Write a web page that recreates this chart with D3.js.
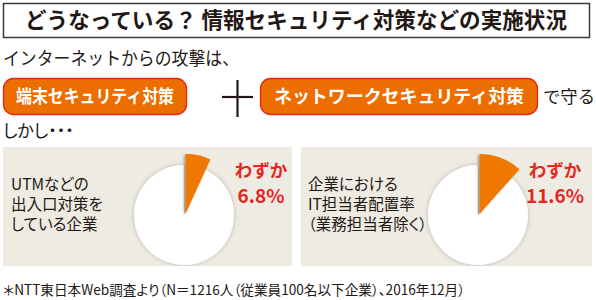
<!DOCTYPE html>
<html><head><meta charset="utf-8">
<script src="https://cdn.jsdelivr.net/npm/d3@7"></script>
<style>
html,body{margin:0;padding:0;background:#fff;}
svg{display:block;font-family:"Noto Sans CJK JP","Noto Sans",sans-serif;}
.palt{font-feature-settings:"palt";}
</style></head>
<body>
<script>
const title = "どうなっている？ 情報セキュリティ対策などの実施状況";
const intro = "インターネットからの攻撃は、";
const pills = ["端末セキュリティ対策", "ネットワークセキュリティ対策"];
const suffix = "で守る";
const but = "しかし・・・";
const panelLabels = [["UTMなどの","出入口対策を","している企業"],["企業における","IT担当者配置率","（業務担当者除く）"]];
const values = [6.8, 11.6];
const prefixLabel = "わずか";
const footnote = "＊NTT東日本Web調査より（N＝1216人（従業員100名以下企業）、2016年12月）";

const W = 596, H = 300;
const svg = d3.select("body").append("svg").attr("width", W).attr("height", H);
const defs = svg.append("defs");
const f = defs.append("filter").attr("id","sh").attr("x","-30%").attr("y","-30%").attr("width","160%").attr("height","160%");
f.append("feDropShadow").attr("dx",0).attr("dy",0).attr("stdDeviation",2).attr("flood-color","#000").attr("flood-opacity",0.25);
const f2 = defs.append("filter").attr("id","sh2").attr("x","-30%").attr("y","-30%").attr("width","160%").attr("height","160%");
f2.append("feDropShadow").attr("dx",-1.5).attr("dy",1).attr("stdDeviation",1).attr("flood-color","#000").attr("flood-opacity",0.35);

// Title box
svg.append("rect").attr("x",3.5).attr("y",3.5).attr("width",586).attr("height",34)
  .attr("fill","#fff").attr("stroke","#3e3a39").attr("stroke-width",1.5);
svg.append("text").attr("x",296).attr("y",28).attr("text-anchor","middle")
  .attr("font-size",22).attr("font-weight","bold").attr("fill","#231815")
  .attr("textLength",542).attr("lengthAdjust","spacingAndGlyphs").text(title);

svg.append("text").attr("x",3).attr("y",65).attr("font-size",18).attr("fill","#231815")
  .attr("textLength",236).attr("lengthAdjust","spacingAndGlyphs").text(intro);

// Pills
const pillBoxes = [{x:3,w:183,tl:158},{x:260,w:277,tl:250}];
pills.forEach((p,i)=>{
  const b = pillBoxes[i];
  svg.append("rect").attr("x",b.x+0.5).attr("y",78.5).attr("width",b.w).attr("height",36).attr("rx",10)
    .attr("fill","#ec6d00").attr("stroke","#e5261d").attr("stroke-width",1.3);
  svg.append("text").attr("x",b.x+b.w/2+0.5).attr("y",103).attr("text-anchor","middle")
    .attr("font-size",18).attr("font-weight","bold").attr("fill","#fff")
    .attr("textLength",b.tl).attr("lengthAdjust","spacingAndGlyphs").text(p);
});
// plus
svg.append("line").attr("x1",222).attr("x2",253).attr("y1",97).attr("y2",97).attr("stroke","#231815").attr("stroke-width",2.2);
svg.append("line").attr("x1",237.5).attr("x2",237.5).attr("y1",80).attr("y2",117).attr("stroke","#231815").attr("stroke-width",2.2);
svg.append("text").attr("x",543).attr("y",103).attr("font-size",17).attr("fill","#231815")
  .attr("textLength",52).attr("lengthAdjust","spacingAndGlyphs").text(suffix);
svg.append("text").attr("class","palt").attr("x",3).attr("y",137).attr("font-size",17).attr("fill","#231815").text(but);

// Panels
const panels = [{x:3,w:289,cx:184},{x:301,w:291,cx:478}];
const pie = d3.pie().sort(null).value(d=>d);
const arcWhite = d3.arc().innerRadius(0).outerRadius(50);
const arcOrange = d3.arc().innerRadius(0).outerRadius(60);
panels.forEach((pn,i)=>{
  const g = svg.append("g");
  const clipId = "clip"+i;
  defs.append("clipPath").attr("id",clipId).append("rect").attr("x",pn.x).attr("y",147).attr("width",pn.w).attr("height",119);
  g.append("rect").attr("x",pn.x).attr("y",147).attr("width",pn.w).attr("height",119).attr("fill","#eeebe3");
  const pg = g.append("g").attr("clip-path",`url(#${clipId})`).append("g").attr("transform",`translate(${pn.cx},215)`);
  const arcs = pie([values[i], 100-values[i]]);
  pg.append("path").attr("d",arcWhite(arcs[1])).attr("fill","#fff").attr("filter","url(#sh)");
  pg.append("path").attr("d",arcOrange(arcs[0])).attr("transform","translate(1.5,-1)").attr("fill","#ee7800").attr("filter","url(#sh2)");
  // left label
  panelLabels[i].forEach((t,j)=>{
    g.append("text").attr("class","palt").attr("x",pn.x+(i===0?8:7)).attr("y",190+j*20).attr("font-size",15.5).attr("fill","#231815").text(t);
  });
  const lx = pn.x + (i===0?258:254);
  g.append("text").attr("x",lx).attr("y",177).attr("text-anchor","middle").attr("font-size",17.5).attr("font-weight","bold").attr("fill","#e5261d").text(prefixLabel);
  g.append("text").attr("x",lx).attr("y",203).attr("text-anchor","middle").attr("font-size",19).attr("font-weight","bold").attr("fill","#e5261d").text(values[i].toFixed(1)+"%");
});

svg.append("text").attr("class","palt").attr("x",3).attr("y",295).attr("font-size",14).attr("fill","#231815")
  .attr("textLength",462).attr("lengthAdjust","spacingAndGlyphs").text(footnote);
</script>
</body></html>
